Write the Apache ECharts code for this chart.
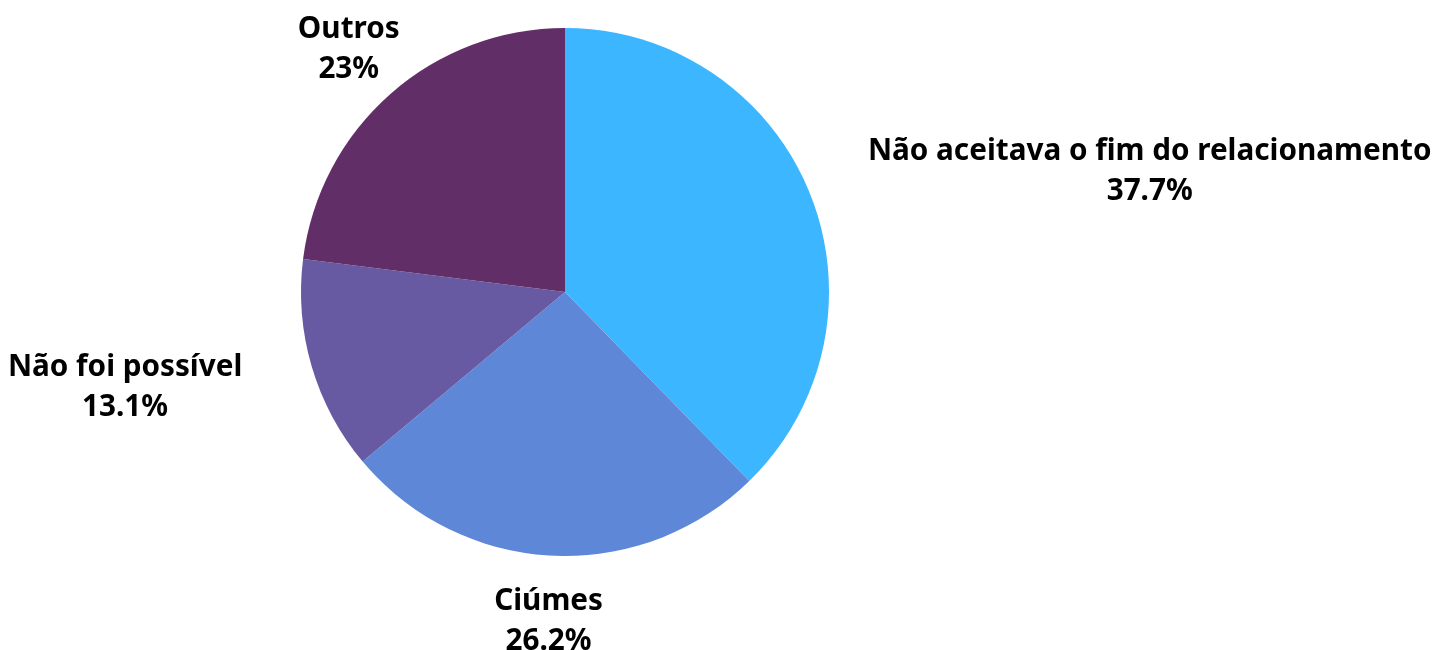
<!DOCTYPE html>
<html>
<head>
<meta charset="utf-8">
<script src="https://cdn.jsdelivr.net/npm/echarts@6/dist/echarts.min.js"></script>
<style>
  html, body { margin: 0; padding: 0; background: #fff; }
  #chart { width: 1432px; height: 650px; }
</style>
</head>
<body>
<div id="chart"></div>
<script>
// dados do gráfico
const categorias = ['Não aceitava o fim do relacionamento', 'Ciúmes', 'Não foi possível', 'Outros']
const valores = [37.7, 26.2, 13.1, 23]
const cores = ['#3bb6ff', '#5e88d7', '#675aa3', '#622e68']

const myChart = echarts.init(document.getElementById('chart'))

const option = {
  color: cores,
  series: [
    {
      type: 'pie',
      center: [565, 292],
      radius: 264,
      startAngle: 90,
      clockwise: true,
      avoidLabelOverlap: false,
      label: {
        show: true,
        position: 'outside',
        formatter: '{b}\n{c}%',
        fontFamily: 'Noto Sans',
        fontWeight: 'bold',
        fontSize: 29.7,
        lineHeight: 40,
        color: '#000',
        distanceToLabelLine: 0
      },
      labelLine: { show: false, length: 63, length2: 0 },
      // linhas sempre centralizadas; bloco encostado no ponto de ancoragem
      labelLayout: function (params) {
        const pts = params.labelLinePoints
        if (!pts) return {}
        const dx = pts[1][0] - pts[0][0]
        const dy = pts[1][1] - pts[0][1]
        const w = params.labelRect.width
        if (Math.abs(dy) > Math.abs(dx)) return { align: 'center', dy: 3 }
        return dx < 0
          ? { align: 'center', dx: -w / 2 - 9, dy: 3 }
          : { align: 'center', dx: w / 2, dy: 3 }
      },
      data: categorias.map((nome, i) => ({ name: nome, value: valores[i] }))
    }
  ]
}
myChart.setOption(option)
</script>
</body>
</html>
